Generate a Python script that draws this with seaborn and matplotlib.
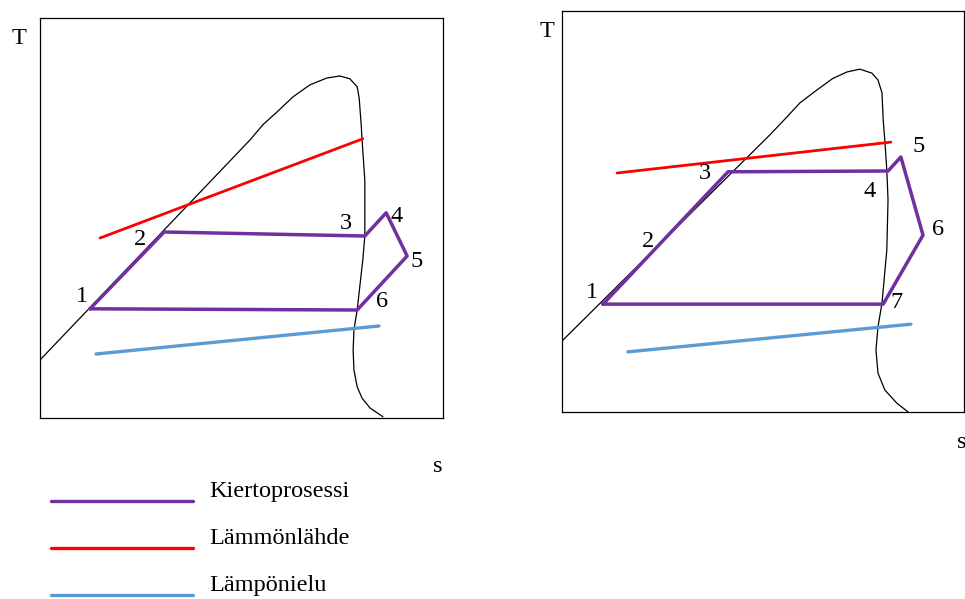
"""
T-s diagrams of two heat pump cycles (left: 6-point cycle, right: 7-point cycle)
with heat source and heat sink lines.
Units are schematic: s and T both run 0..100 across each frame.
"""

import matplotlib.pyplot as plt
import seaborn as sns

sns.set_theme(style="white")
plt.rcParams["font.family"] = ["Liberation Serif", "DejaVu Serif"]
plt.rcParams["text.color"] = "black"

PURPLE = "#7030A0"
RED = "#FF0000"
BLUE = "#5B9BD5"
FS = 17.5

# ------------------------------------------------------------------
# Data - left diagram
# ------------------------------------------------------------------
left_cycle_s = [12.4, 30.8, 80.6, 85.9, 91.1, 78.7, 12.4]
left_cycle_T = [27.3, 46.5, 45.5, 51.3, 40.5, 27.0, 27.3]
left_labels = ["1", "2", "3", "4", "5", "6"]
left_label_s = [10.4, 24.8, 75.8, 88.6, 93.5, 84.9]
left_label_T = [30.3, 44.7, 48.7, 50.3, 39.2, 29.2]

left_source_s = [14.9, 80.1]
left_source_T = [45.0, 69.8]
left_sink_s = [13.9, 84.1]
left_sink_T = [16.0, 23.0]

left_dome_s = [0.0, 52.1, 55.3, 58.8, 62.8, 67.0, 71.2, 74.4, 76.9, 78.7, 79.2,
               79.7, 79.9, 80.6, 80.6, 80.1, 78.7, 77.9, 77.7, 77.9, 78.7, 79.9,
               81.9, 85.1]
left_dome_T = [14.5, 69.5, 73.3, 76.5, 80.3, 83.3, 85.0, 85.5, 84.8, 82.8, 80.0,
               73.3, 69.8, 59.5, 45.5, 39.5, 27.0, 22.0, 17.0, 12.0, 7.8, 5.0,
               2.5, 0.3]

# ------------------------------------------------------------------
# Data - right diagram
# ------------------------------------------------------------------
right_cycle_s = [10.2, 41.3, 81.1, 84.3, 89.8, 79.9, 10.2]
right_cycle_T = [26.9, 59.9, 60.1, 63.6, 44.1, 26.9, 26.9]
right_labels = ["1", "2", "3", "4", "5", "6", "7"]
right_label_s = [7.5, 21.4, 35.6, 76.4, 88.8, 93.5, 83.3]
right_label_T = [29.7, 42.4, 59.6, 54.9, 66.1, 45.4, 27.2]

right_source_s = [13.7, 81.8]
right_source_T = [59.6, 67.3]
right_sink_s = [16.4, 86.8]
right_sink_T = [15.0, 21.9]

right_dome_s = [0.0, 51.7, 55.5, 59.2, 63.4, 67.4, 70.9, 74.1, 77.1, 78.6, 79.6,
                79.9, 80.3, 80.8, 81.1, 80.8, 79.6, 78.6, 78.1, 78.6, 80.3, 83.3,
                86.1]
right_dome_T = [17.7, 69.1, 73.1, 77.1, 80.3, 83.2, 84.8, 85.5, 84.5, 82.8, 79.6,
                72.8, 67.8, 60.3, 52.9, 40.4, 27.2, 21.2, 15.5, 9.7, 5.5, 2.2,
                0.0]

legend_names = ["Kiertoprosessi", "Lämmönlähde", "Lämpönielu"]
legend_colors = [PURPLE, RED, BLUE]

# ------------------------------------------------------------------
# Figure
# ------------------------------------------------------------------
W, H = 965, 599
fig = plt.figure(figsize=(W / 100, H / 100), dpi=100)


def px_axes(x0, y0, x1, y1):
    """axes from pixel box (top-left origin)"""
    return fig.add_axes([x0 / W, 1 - y1 / H, (x1 - x0) / W, (y1 - y0) / H])


def draw_panel(ax, dome, cycle, source, sink, labels, t_pos, s_pos):
    sns.lineplot(x=dome[0], y=dome[1], sort=False, estimator=None,
                 color="black", lw=0.9, ax=ax)
    sns.lineplot(x=source[0], y=source[1], sort=False, estimator=None,
                 color=RED, lw=2.0, ax=ax)
    sns.lineplot(x=sink[0], y=sink[1], sort=False, estimator=None,
                 color=BLUE, lw=2.4, ax=ax)
    sns.lineplot(x=cycle[0], y=cycle[1], sort=False, estimator=None,
                 color=PURPLE, lw=2.5, ax=ax)
    for line in ax.lines:
        line.set_solid_joinstyle("round")
    for txt, s, t in zip(*labels):
        ax.text(s, t, txt, fontsize=FS, ha="center", va="center", color="black")
    ax.text(*t_pos, "T", fontsize=FS, ha="center", va="center", clip_on=False)
    ax.text(*s_pos, "s", fontsize=FS, ha="center", va="center", clip_on=False)
    ax.set_xlim(0, 100)
    ax.set_ylim(0, 100)
    ax.set_xticks([])
    ax.set_yticks([])
    ax.set_xlabel("")
    ax.set_ylabel("")
    for sp in ax.spines.values():
        sp.set_color("black")
        sp.set_linewidth(0.9)


ax1 = px_axes(40, 18, 443, 418)
draw_panel(ax1, (left_dome_s, left_dome_T), (left_cycle_s, left_cycle_T),
           (left_source_s, left_source_T), (left_sink_s, left_sink_T),
           (left_labels, left_label_s, left_label_T),
           (-5.2, 95.0), (98.8, -12.0))

ax2 = px_axes(562, 11, 964, 412)
draw_panel(ax2, (right_dome_s, right_dome_T), (right_cycle_s, right_cycle_T),
           (right_source_s, right_source_T), (right_sink_s, right_sink_T),
           (right_labels, right_label_s, right_label_T),
           (-3.7, 94.8), (99.5, -7.5))

# manual legend below the left diagram
leg = px_axes(0, 440, 500, 599)
leg.set_xlim(0, 500)
leg.set_ylim(599, 440)
leg.axis("off")
for i, (name, col) in enumerate(zip(legend_names, legend_colors)):
    y = 501 + 47 * i
    leg.plot([51, 193], [y, y], color=col, lw=2.4, solid_capstyle="round")
    leg.text(209, y - 9, name, fontsize=FS, ha="left", va="center")

fig.savefig("out.png", dpi=100)
